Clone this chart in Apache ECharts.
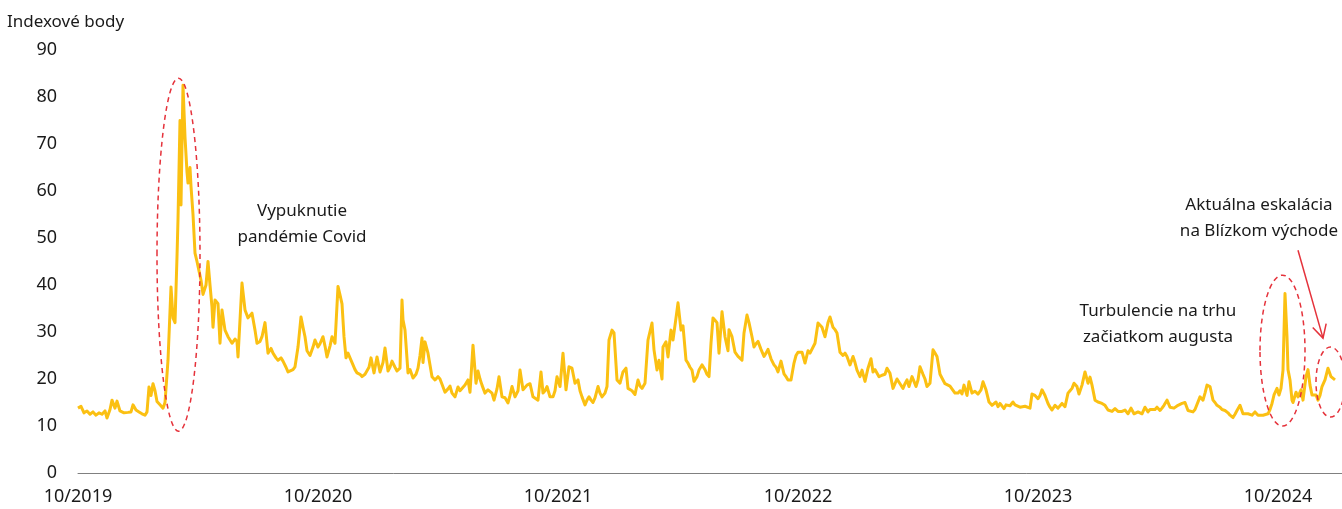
<!DOCTYPE html>
<html><head><meta charset="utf-8">
<script src="https://cdn.jsdelivr.net/npm/echarts@6/dist/echarts.min.js"></script>
<style>html,body{margin:0;padding:0;background:#fff}#c{width:1342px;height:509px}</style>
</head><body><div id="c"></div>
<script>
// trading-day index since start (10/2019) and VIX close values (index points)
const tradingDay = [
0,3,6,9,12,15,18,21,24,27,29,32,34,37,39,42,46,50,53,55,58,61,64,67,69,71,73,75,77,79,82,85,87,90,93,95,97,99,100,102,103,104,105,107,109,110,112,113,115,117,119,121,123,125,128,130,132,134,135,137,140,142,144,147,150,154,157,159,160,164,167,170,174,177,179,182,184,187,190,193,195,198,200,203,205,208,210,
212,215,217,220,223,225,227,229,232,235,237,240,242,245,247,249,252,254,257,260,262,264,266,268,270,272,275,277,279,282,284,287,289,291,293,296,299,302,305,307,310,312,314,317,319,322,324,325,327,330,332,334,335,338,340,342,344,345,347,350,352,354,357,360,362,364,367,370,372,374,377,380,382,384,387,390,392,395,398,400,402,404,407,410,412,414,416,419,421,
424,427,430,432,434,437,440,442,445,447,449,452,455,457,460,463,465,467,469,472,475,477,479,482,485,488,491,494,497,500,502,504,507,509,511,513,515,517,520,522,524,527,529,531,534,536,539,542,545,548,550,552,554,557,560,562,564,567,570,574,576,579,581,584,585,588,590,593,595,598,600,603,605,608,610,612,614,616,619,621,624,627,629,
631,633,635,637,639,641,644,647,650,651,654,657,660,662,664,666,669,671,674,676,678,680,683,686,688,690,693,696,698,700,703,706,708,710,713,716,718,720,722,724,727,730,732,734,737,740,742,744,747,750,752,755,757,759,762,765,767,769,772,775,777,779,782,784,787,790,793,795,797,799,801,804,807,809,812,815,817,819,822,825,827,829,831,834,836,838,
840,842,845,847,849,852,855,857,859,862,865,867,869,872,874,877,880,882,884,886,889,891,894,897,900,903,905,908,911,914,916,918,920,922,924,926,928,930,932,935,937,939,942,944,947,949,952,954,957,960,962,964,967,970,972,974,977,980,982,984,987,990,992,994,996,999,1001,1004,1007,1010,1012,1014,1017,1020,1022,1024,1027,1030,1032,1034,1037,1040,1042,1044,1047,
1050,1053,1056,1058,1060,1062,1064,1067,1070,1072,1074,1077,1079,1082,1084,1086,1089,1092,1094,1096,1098,1100,1102,1104,1107,1110,1112,1115,1117,1119,1122,1125,1127,1129,1132,1135,1137,1139,1142,1144,1147,1150,1152,1155,1157,1159,1162,1165,1167,1170,1172,1174,1177,1180,1182,1185,1187,1190,1192,1194,1196,1199,1201,1203,1205,1207,1209,1210,1212,1214,1215,1218,1220,1223,1225,1228,1230,1232,1234,1236,1238,1240,1242,1244,1247,1250,1253,1255,1257
];
const vix = [
13.8,14.2,12.8,13.2,12.5,13,12.3,12.8,12.5,13.2,11.7,13.5,15.5,13.8,15.3,13.2,12.8,12.9,13.0,14.5,13.4,13.0,12.6,12.3,13.0,18.3,16.5,19.0,17.5,15.2,14.5,13.8,15.0,24.0,39.6,33.0,32.0,46.0,54.0,75.0,57.0,70.0,82.5,71.5,64.0,61.7,65.0,61.0,55.0,46.8,45.0,43.0,41.0,38.0,40.0,45.0,40.0,35.3,31.0,36.8,36.0,27.6,34.7,30.4,29.0,27.6,28.5,28.0,24.7,40.4,34.7,33.0,34.0,30.4,27.6,28.0,29.0,32.0,25.5,26.5,25.5,24.5,24.0,24.5,23.8,22.5,21.5,
21.3,22.0,22.6,26.8,33.2,31.0,29.0,26.0,25.0,26.8,28.3,26.8,27.5,29.0,27.0,24.7,27.0,29.0,27.6,39.7,37.9,36.0,29.0,24.5,25.5,24.5,23.0,22.0,21.3,21.0,20.5,21.0,21.3,22.5,24.5,21.3,24.7,21.5,23.5,26.6,21.7,22.5,23.8,22.5,21.7,22.3,36.8,32.6,30.4,21.3,22.0,21.7,20.2,21.0,22.3,25.0,28.7,23.5,27.9,25.5,23.0,20.5,19.8,20.5,20.0,19.8,17.2,17.9,18.5,17.0,16.2,18.3,17.5,17.2,18.7,19.8,17.2,27.2,19.1,21.7,20.0,18.7,17.0,17.7,17.5,17.0,15.5,17.9,20.5,
16.2,16.0,14.9,16.5,18.4,16.2,17.5,21.9,17.7,17.5,18.7,19.0,16.2,16.5,15.5,21.5,17.0,17.5,18.4,16.2,16.2,17.5,20.5,18.4,25.5,17.7,22.6,22.3,19.1,19.8,17.5,16.2,14.5,15.5,16.2,15.5,15.0,16.0,18.4,17.0,16.2,17.0,18.4,28.3,30.4,29.8,19.8,19.1,21.5,22.3,18.0,17.8,17.5,16.7,19.8,18.5,18.0,19.1,28.3,31.9,26.2,21.9,24.0,20.0,26.8,27.9,24.7,30.4,28.3,33.0,36.2,30.4,31.3,24.0,23.4,22.5,21.9,19.5,20.5,21.9,23.0,22.0,21.0,
20.5,27.6,33.0,32.5,32.0,25.5,34.3,29.0,26.0,30.5,29.0,25.7,24.8,24.5,24.0,29.8,33.6,32.0,29.0,26.8,27.5,28.0,26.3,24.8,25.5,26.3,24.3,23.0,22.5,21.5,23.8,21.1,20.5,19.8,19.8,23.4,25.0,25.7,26.0,25.7,23.4,26.0,25.5,25.7,27.6,31.9,32.3,31.0,29.0,32.0,33.2,31.0,30.5,29.8,25.7,25.0,25.5,24.8,23.0,24.8,23.5,21.9,20.5,21.9,19.5,22.3,24.3,21.5,22.0,21.9,20.5,20.8,21.0,22.3,21.2,18.0,19.0,20.0,19.0,18.0,19.0,19.8,18.4,20.5,19.5,18.4,
19.8,22.6,21.0,20.0,18.4,19.1,26.2,25.5,24.8,21.0,19.8,19.0,18.7,18.5,18.7,17.0,17.0,17.5,16.8,18.7,16.5,19.4,17.0,17.4,16.8,17.7,19.4,17.7,15.1,14.4,14.8,15.1,14.1,14.8,14.4,13.7,14.5,14.1,14.3,15.1,14.5,14.1,14.0,13.8,14.2,14.1,13.8,16.8,16.5,15.8,16.5,17.7,16.5,14.8,14.0,13.4,14.4,13.8,14.2,14.8,14.1,17.0,17.5,18.0,19.1,18.4,16.8,18.7,21.5,19.1,20.4,18.7,15.5,15.1,14.8,14.8,14.4,13.4,13.5,13.1,13.7,13.1,13.0,13.1,13.4,
12.6,13.8,12.6,13.0,13.0,13.2,12.6,14.0,13.0,13.5,13.3,13.5,14.0,13.3,13.8,14.4,15.5,14.0,14.2,13.8,14.0,14.4,14.0,14.8,15.0,13.3,13.5,13.0,13.5,13.8,16.2,15.5,17.0,18.7,18.4,15.5,15.0,14.4,14.0,13.5,13.3,12.8,12.3,11.8,12.5,13.3,14.4,12.6,13.0,12.6,12.8,12.3,13.0,12.3,12.5,12.3,12.5,12.6,13.5,14.8,16.6,18.0,16.6,18.0,21.9,38.2,29.0,22.0,19.8,15.5,15.0,17.2,16.2,17.7,15.5,20.5,22.0,18.7,16.6,17.0,16.6,15.5,16.5,18.4,19.8,22.3,20.5,20.4,19.8
];
const xTickLabels = ['10/2019','10/2020','10/2021','10/2022','10/2023','10/2024'];
const xTickStep = 240;
const yMin = 0, yMax = 90, yStep = 10;
const yAxisTitle = 'Indexové body';
const notes = [
  'Vypuknutie\npandémie Covid',
  'Turbulencie na trhu\nzačiatkom augusta',
  'Aktuálna eskalácia\nna Blízkom východe'
];
// highlighted areas in data units: [dayFrom, dayTo, valueFrom, valueTo]
const highlightAreas = [[79,122,8.9,84.0],[1182,1227,10.0,42.1],[1238,1267,11.9,26.8]];
const arrowFromTo = [[1220,47.4],[1245,28.7]];

const FONT = '"Noto Sans", sans-serif';
const chart = echarts.init(document.getElementById('c'));
const option = {
  animation: false,
  textStyle: {fontFamily: FONT},
  grid: {left: 78, right: 0, top: 50, bottom: 36, containLabel: false},
  xAxis: {
    type: 'value', min: 0, max: 1264, interval: xTickStep,
    axisLine: {show: true, lineStyle: {color: '#808080', width: 1}},
    axisTick: {show: false}, splitLine: {show: false},
    axisLabel: {
      fontSize: 18, color: '#1a1a1a', margin: 15, fontFamily: FONT,
      showMaxLabel: false,
      formatter: v => (v % xTickStep === 0 && v / xTickStep < xTickLabels.length) ? xTickLabels[v / xTickStep] : ''
    }
  },
  yAxis: {
    type: 'value', min: yMin, max: yMax, interval: yStep,
    axisLine: {show: false}, axisTick: {show: false}, splitLine: {show: false},
    axisLabel: {fontSize: 18, color: '#1a1a1a', margin: 21, fontFamily: FONT}
  },
  series: [{
    type: 'line', showSymbol: false, symbol: 'none',
    data: tradingDay.map((d, i) => [d, vix[i]]),
    lineStyle: {color: '#FBC012', width: 3, join: 'round'},
    itemStyle: {color: '#FBC012'}
  }]
};
chart.setOption(option);

const RED = '#E5323B';
const toPx = (d, v) => chart.convertToPixel({gridIndex: 0}, [d, v]);
const graphics = [];
highlightAreas.forEach(a => {
  const p1 = toPx(a[0], a[3]), p2 = toPx(a[1], a[2]);
  graphics.push({type: 'ellipse', silent: true, z: 10,
    shape: {cx: (p1[0] + p2[0]) / 2, cy: (p1[1] + p2[1]) / 2, rx: (p2[0] - p1[0]) / 2, ry: (p2[1] - p1[1]) / 2},
    style: {fill: 'none', stroke: RED, lineWidth: 1.5, lineDash: [5, 4]}});
});
const a0 = toPx(arrowFromTo[0][0], arrowFromTo[0][1]);
const a1 = toPx(arrowFromTo[1][0], arrowFromTo[1][1]);
const dx = a1[0] - a0[0], dy = a1[1] - a0[1], len = Math.hypot(dx, dy);
const ux = dx / len, uy = dy / len, hl = 13, hw = 7;
graphics.push({type: 'line', silent: true, z: 10, shape: {x1: a0[0], y1: a0[1], x2: a1[0], y2: a1[1]}, style: {stroke: RED, lineWidth: 1.5}});
graphics.push({type: 'polyline', silent: true, z: 10, shape: {points: [
  [a1[0] - hl * ux - hw * uy, a1[1] - hl * uy + hw * ux], [a1[0], a1[1]], [a1[0] - hl * ux + hw * uy, a1[1] - hl * uy - hw * ux]]},
  style: {stroke: RED, lineWidth: 1.5, fill: 'none'}});
const txt = (s, x, y, align) => ({type: 'text', silent: true, z: 11,
  style: {text: s, x: x, y: y, textAlign: align, textVerticalAlign: 'top', font: '17px ' + FONT, lineHeight: 26, fill: '#1a1a1a'}});
graphics.push(txt(yAxisTitle, 7, 9, 'left'));
graphics.push(txt(notes[0], 302, 198, 'center'));
graphics.push(txt(notes[1], 1158, 298, 'center'));
graphics.push(txt(notes[2], 1259, 192, 'center'));
chart.setOption({graphic: graphics});
</script></body></html>
